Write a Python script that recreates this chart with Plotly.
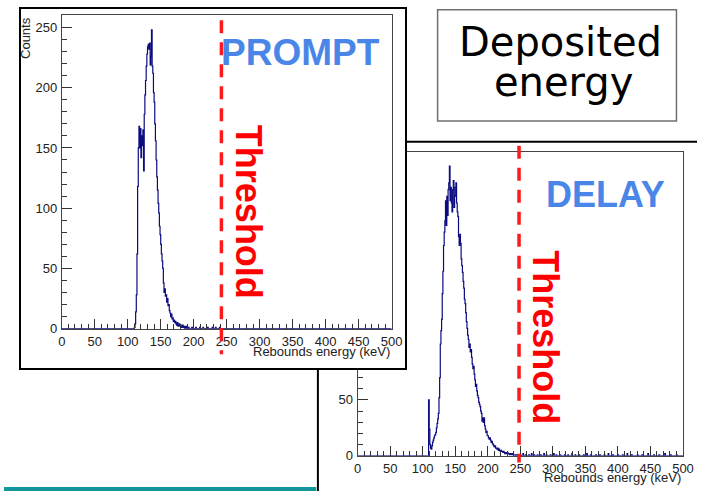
import numpy as np
import plotly.graph_objects as go

W, H = 708, 499

# Energy axis: 1 keV bins from 0 to 500 keV
e_max = 500

# PROMPT spectrum, counts per 1 keV bin starting at prompt_start
prompt_start = 105
prompt_counts = [
    0, 0, 0, 0, 0,
    1, 4, 14, 28, 62, 118, 150, 168, 150, 166,
    142, 160, 152, 165, 131, 178, 194, 206, 218, 228,
    234, 236, 232, 237, 219, 226, 248, 218, 212, 196,
    188, 170, 156, 140, 126, 115, 104, 96, 85, 78,
    70, 62, 56, 50, 38, 30, 33, 27, 28, 22,
    25, 19, 20, 15, 13, 10, 12, 8, 9, 6,
    7, 5, 6, 4, 3, 5, 2, 3, 4, 2,
    3, 1, 2, 3, 1, 2, 0, 1, 2, 0,
    1, 0, 1, 0, 0,
]
prompt_tail_energy = [197, 203, 209, 214, 221, 228, 233, 239]
prompt_tail_counts = [1, 1, 1, 1, 1, 1, 1, 1]
prompt_threshold = 242

# DELAY spectrum, counts per 1 keV bin starting at delay_start
delay_start = 105
delay_counts = [
    0, 0, 0, 0, 50,
    24, 10, 7, 6, 9, 12, 14, 16, 18, 19,
    21, 25, 29, 33, 38, 52, 70, 100, 112, 122,
    145, 165, 188, 200, 210, 228, 206, 232, 215, 238,
    244, 259, 228, 240, 226, 218, 238, 246, 222, 232,
    240, 244, 226, 218, 214, 196, 188, 198, 190, 176,
    170, 164, 156, 150, 140, 136, 128, 120, 114, 108,
    104, 97, 100, 93, 95, 88, 82, 78, 80, 73,
    68, 62, 64, 58, 54, 52, 48, 46, 44, 40,
    38, 31, 34, 30, 34, 27, 24, 21, 22, 18,
    18, 16, 15, 16, 14, 12, 13, 11, 10, 9,
    8, 9, 7, 7, 6, 7, 5, 6, 5, 4,
    5, 4, 4, 3, 4, 3, 2, 3, 3, 2,
    3, 2, 2, 1, 2, 2, 1, 1, 2, 1,
    1, 1, 0, 1, 1, 0, 1, 0, 1, 0, 1,
]
delay_tail_energy = [254, 258, 263, 267, 271, 276, 281, 286, 290, 296, 301, 305,
                     311, 318, 323, 329, 334, 340, 347, 352, 358, 366, 372, 379,
                     385, 392, 400, 407, 414, 421, 430, 437, 446, 455, 463, 472,
                     481, 490]
delay_tail_counts = [2, 1, 1, 2, 1, 1, 1, 2, 1, 1, 2, 1,
                     1, 1, 1, 2, 1, 1, 1, 2, 1, 1, 1, 1,
                     2, 1, 1, 1, 2, 1, 1, 1, 2, 1, 1, 2,
                     1, 1]
delay_threshold = 248

x_ticks = list(range(0, 501, 50))
y_ticks = list(range(0, 251, 50))


def full_histogram(start, counts, tail_e, tail_c):
    h = np.zeros(e_max)
    h[start:start + len(counts)] = counts
    for e, c in zip(tail_e, tail_c):
        h[e] = c
    return h


prompt_hist = full_histogram(prompt_start, prompt_counts, prompt_tail_energy, prompt_tail_counts)
delay_hist = full_histogram(delay_start, delay_counts, delay_tail_energy, delay_tail_counts)
edges = np.arange(0, e_max + 1)


# pixel positions on the 708 x 499 canvas, converted to paper fractions
def px(x):
    return x / W


def py(y):
    return 1 - y / H


hist_color = "#0b0b80"
tick_font = dict(family="Liberation Sans", size=13, color="#222222")

fig = go.Figure()

# DELAY histogram (back panel)
fig.add_trace(go.Scatter(
    x=edges, y=np.append(delay_hist, delay_hist[-1]),
    mode="lines", line=dict(color=hist_color, width=1.2, shape="hv"),
    xaxis="x", yaxis="y", showlegend=False, hoverinfo="skip"))

# empty subplot used as the white frame of the PROMPT canvas
fig.add_trace(go.Scatter(x=[], y=[], xaxis="x2", yaxis="y2",
                         showlegend=False, hoverinfo="skip"))

# PROMPT histogram (front panel)
fig.add_trace(go.Scatter(
    x=edges, y=np.append(prompt_hist, prompt_hist[-1]),
    mode="lines", line=dict(color=hist_color, width=1.2, shape="hv"),
    xaxis="x3", yaxis="y3", showlegend=False, hoverinfo="skip"))


def hist_axis(domain, anchor, rng, tickvals):
    return dict(
        domain=domain, anchor=anchor, range=rng, tickmode="array",
        tickvals=tickvals, ticks="inside", ticklen=10, tickwidth=1, tickcolor="#333333",
        minor=dict(ticks="inside", dtick=10, tick0=0, ticklen=5, tickwidth=1,
                   tickcolor="#333333", showgrid=False),
        showline=True, mirror=True, linecolor="#444444", linewidth=1,
        showgrid=False, zeroline=False, tickfont=tick_font, ticklabelstandoff=1,
        fixedrange=True,
    )


frame_axis = dict(showline=True, mirror=True, linecolor="black", linewidth=2,
                  showgrid=False, zeroline=False, showticklabels=False, ticks="",
                  range=[0, 1], fixedrange=True)

fig.update_layout(
    width=W, height=H, autosize=False,
    margin=dict(l=0, r=0, t=0, b=0, pad=0),
    paper_bgcolor="white", plot_bgcolor="white",
    xaxis=hist_axis([px(361.3), px(693.7)], "y", [0, 500], x_ticks),
    yaxis=hist_axis([py(463.3), py(154)], "x", [0, 272], y_ticks),
    xaxis2=dict(frame_axis, domain=[px(17), px(410)], anchor="y2"),
    yaxis2=dict(frame_axis, domain=[py(374), py(9)], anchor="x2"),
    xaxis3=hist_axis([px(59), px(396)], "y3", [0, 500], x_ticks),
    yaxis3=hist_axis([py(334), py(15.7)], "x3", [0, 260], y_ticks),
)

shapes = [
    # outer frame of the DELAY canvas (top and left edges, the rest runs off the page)
    dict(type="line", xref="paper", yref="paper", x0=px(319.7), y0=py(144),
         x1=1, y1=py(144), line=dict(color="black", width=2), layer="below"),
    dict(type="line", xref="paper", yref="paper", x0=px(320.7), y0=py(143),
         x1=px(320.7), y1=0, line=dict(color="black", width=2), layer="below"),
    # teal strip at the bottom
    dict(type="line", xref="paper", yref="paper", x0=0, x1=px(319),
         y0=py(497), y1=py(497), line=dict(color="#13959c", width=4), layer="above"),
    # title box
    dict(type="rect", xref="paper", yref="paper", x0=px(443), y0=py(10),
         x1=px(687), y1=py(123), line=dict(color="#707070", width=1.5)),
    # threshold lines
    dict(type="line", xref="x3", yref="paper", x0=prompt_threshold, x1=prompt_threshold,
         y0=py(20.7), y1=py(360), line=dict(color="#ff1a1a", width=3.5, dash="13px,9px"),
         layer="above"),
    dict(type="line", xref="x", yref="paper", x0=delay_threshold, x1=delay_threshold,
         y0=py(148), y1=py(470), line=dict(color="#ff1a1a", width=3.5, dash="13px,9px"),
         layer="above"),
]


def note(text, x, y, font, **kw):
    d = dict(text=text, x=px(x), y=py(y), xref="paper", yref="paper",
             xanchor="center", yanchor="middle", showarrow=False, font=font)
    d.update(kw)
    return d


label_font = dict(family="Liberation Sans", size=13, color="#222222")
blue_font = dict(family="Liberation Sans", size=37, color="#4a86e8")
red_font = dict(family="Liberation Sans", size=36, color="#ff0000")
title_font = dict(family="DejaVu Sans", size=40, color="black")

annotations = [
    note("Counts", 22, 15.7, label_font, textangle=-90, yanchor="top"),
    note("Rebounds energy (keV)", 396, 357.5, label_font, xanchor="right"),
    note("Rebounds energy (keV)", 693.7, 485.5, label_font, xanchor="right"),
    note("<b>PROMPT</b>", 303, 53.5, blue_font),
    note("<b>DELAY</b>", 614.5, 198, dict(blue_font, size=36)),
    note("<b>Threshold</b>", 250, 215, red_font, textangle=90),
    note("<b>Threshold</b>", 553, 343, red_font, textangle=90),
    note("Deposited", 569, 43, title_font),
    note("energy", 572, 83, title_font),
]

fig.update_layout(shapes=shapes, annotations=annotations)

fig.write_html("out.html")
